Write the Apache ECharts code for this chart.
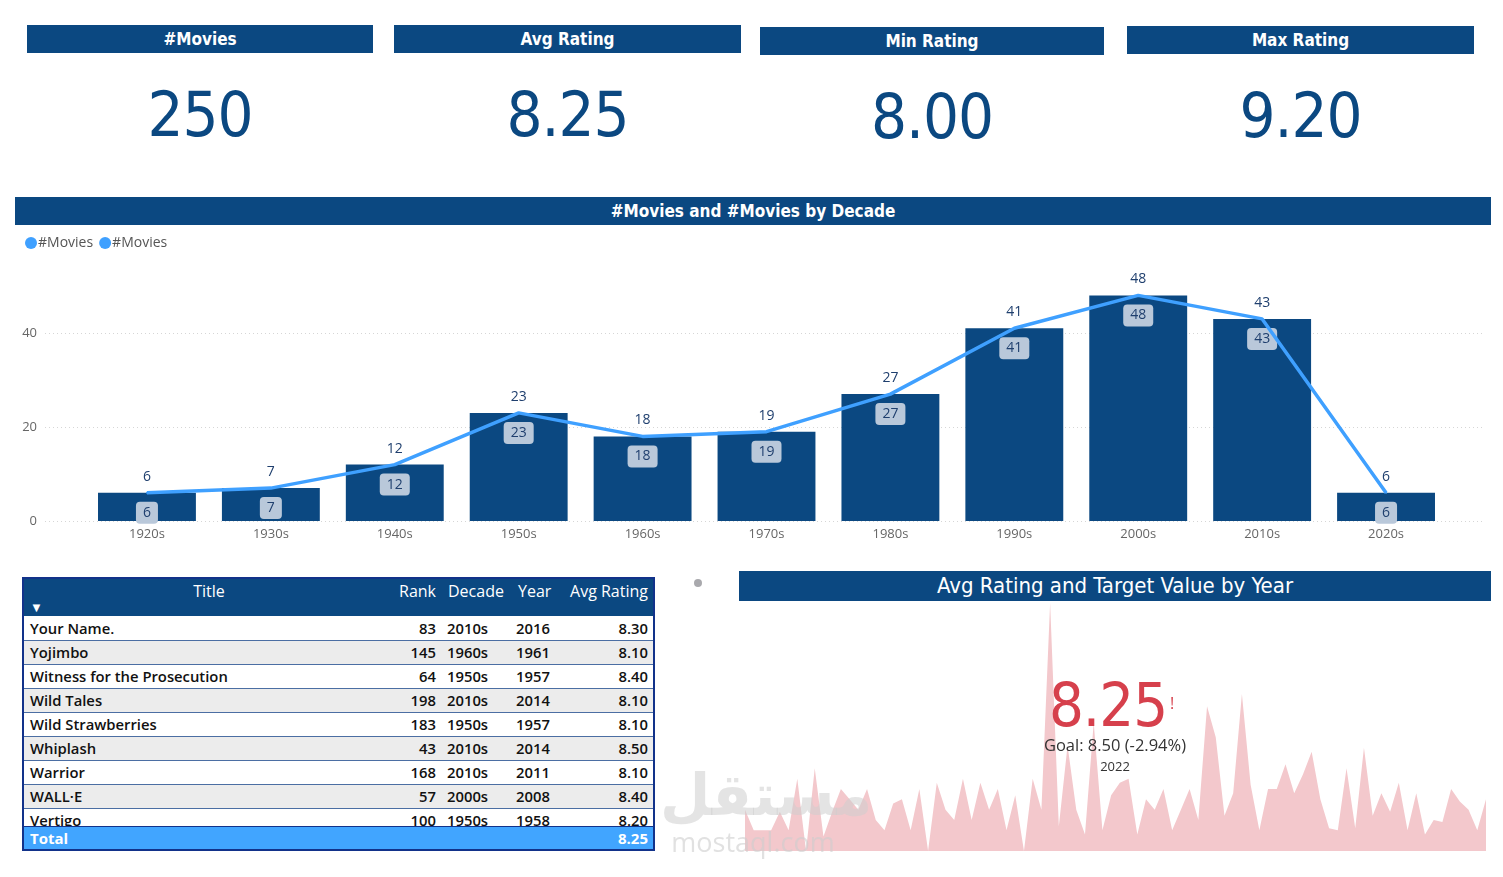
<!DOCTYPE html>
<html>
<head>
<meta charset="utf-8">
<title>Movies dashboard</title>
<script src="https://cdn.jsdelivr.net/npm/echarts@6.0.0/dist/echarts.min.js"></script>
<style>
  html, body { margin: 0; padding: 0; background: #fff; }
  body { width: 1503px; height: 877px; position: relative; overflow: hidden; font-family: 'Open Sans', 'Noto Sans', sans-serif; }
  #chart { position: absolute; left: 0; top: 0; width: 1503px; height: 877px; }
  .abs { position: absolute; }
  .din { font-family: 'DejaVu Sans Condensed', 'DejaVu Sans', sans-serif; font-stretch: condensed; }
  .bar { background: #0b4881; color: #fff; font-weight: bold; font-size: 17px; text-align: center; }
  .kpi { color: #0b4881; font-size: 63px; letter-spacing: -1px; text-align: center; }
  #tbl { left: 22px; top: 577px; width: 629px; height: 270px; border: 2px solid #12328a; background: #fff; overflow: hidden; }
  #tbl .head { position: absolute; left: 0; top: 0; width: 100%; height: 37px; background: #0b4881; color: #fff; font-size: 16px; }
  #tbl .head span, #tbl .row span { position: absolute; white-space: nowrap; }
  #rows { position: absolute; left: 0; top: 38px; width: 100%; height: 210px; overflow: hidden; }
  #tbl .row { position: absolute; left: 0; width: 100%; height: 23px; border-bottom: 1px solid #4b6ea3; color: #111; font-size: 14.8px; font-weight: 600; line-height: 23px; }
  #tbl .total { position: absolute; left: 0; top: 247px; width: 100%; height: 23px; background: #41a5ff; color: #fff; font-size: 15px; font-weight: bold; line-height: 23px; border-top: 1px solid #12328a; }
  #tbl .total span { position: absolute; }
</style>
</head>
<body>
<div id="chart"></div>

<script>
// KPI cards
var kpiTitles = ['#Movies', 'Avg Rating', 'Min Rating', 'Max Rating'];
var kpiValues = ['250', '8.25', '8.00', '9.20'];

// #Movies by decade
var decades = ['1920s', '1930s', '1940s', '1950s', '1960s', '1970s', '1980s', '1990s', '2000s', '2010s', '2020s'];
var decadeCounts = [6, 7, 12, 23, 18, 19, 27, 41, 48, 43, 6];

// avg rating by year (trend behind the KPI)
var years = [1921, 1924, 1925, 1926, 1927, 1931, 1934, 1936, 1939,
  1940, 1941, 1942, 1944, 1946, 1948, 1949,
  1950, 1951, 1952, 1953, 1954, 1955, 1956, 1957, 1958, 1959,
  1960, 1961, 1962, 1963, 1964, 1966, 1968, 1969, 1971,
  1972, 1973, 1974, 1975, 1976, 1977, 1978, 1979, 1980, 1981, 1982, 1983, 1984, 1985, 1986, 1987, 1988, 1989,
  1990, 1991, 1992, 1993, 1994, 1995, 1996, 1997, 1998, 1999, 2000, 2001, 2002, 2003, 2004, 2005, 2006, 2007,
  2008, 2009, 2010, 2011, 2012, 2013, 2014, 2015, 2016, 2017, 2018, 2019, 2020, 2021, 2022];
var yearRatings = [8.20, 8.10, 8.10, 8.10, 8.19, 8.10, 8.35, 8.00, 8.40,
  8.07, 8.19, 8.30, 8.25, 8.20, 8.30, 8.15,
  8.10, 8.23, 8.25, 8.10, 8.30, 8.00, 8.33, 8.20, 8.15, 8.35,
  8.15, 8.33, 8.20, 8.30, 8.10, 8.27, 8.00, 8.35, 8.20,
  9.20, 8.12, 8.51, 8.20, 8.08, 8.62, 8.10, 8.27, 8.33, 8.35, 8.08, 8.25, 8.20, 8.30, 8.10, 8.20, 8.30, 8.15,
  8.70, 8.55, 8.17, 8.28, 8.76, 8.32, 8.10, 8.30, 8.30, 8.42, 8.28, 8.37, 8.48, 8.25, 8.11, 8.10, 8.40, 8.11,
  8.50, 8.17, 8.28, 8.19, 8.33, 8.10, 8.28, 8.08, 8.15, 8.14, 8.30, 8.24, 8.20, 8.10, 8.25];
var goalValue = '8.50';
var goalDelta = '(-2.94%)';
var kpiYear = '2022';

// table
var cols = ['Title', 'Rank', 'Decade', 'Year', 'Avg Rating'];
var tTitles = ['Your Name.', 'Yojimbo', 'Witness for the Prosecution', 'Wild Tales', 'Wild Strawberries', 'Whiplash', 'Warrior', 'WALL·E', 'Vertigo'];
var tRanks = [83, 145, 64, 198, 183, 43, 168, 57, 100];
var tDecades = ['2010s', '1960s', '1950s', '2010s', '1950s', '2010s', '2010s', '2000s', '1950s'];
var tYears = [2016, 1961, 1957, 2014, 1957, 2014, 2011, 2008, 1958];
var tRatings = ['8.30', '8.10', '8.40', '8.10', '8.10', '8.50', '8.10', '8.40', '8.20'];
var tTotal = '8.25';

function el(tag, cls, css, text, parent) {
  var d = document.createElement(tag);
  if (cls) d.className = cls;
  d.style.cssText = css || '';
  if (text != null) d.textContent = text;
  (parent || document.body).appendChild(d);
  return d;
}

// KPI cards
var cardBars = [[27, 25, 346, 28], [394, 25, 347, 28], [760, 27, 344, 28], [1127, 26, 347, 28]];
cardBars.forEach(function(b, i) {
  el('div', 'abs bar din', 'left:' + b[0] + 'px;top:' + b[1] + 'px;width:' + b[2] + 'px;height:' + b[3] + 'px;line-height:' + b[3] + 'px;', kpiTitles[i]);
  el('div', 'abs kpi din', 'left:' + b[0] + 'px;top:' + (b[1] + 52) + 'px;width:' + b[2] + 'px;height:76px;line-height:76px;', kpiValues[i]);
});

// section title bars
el('div', 'abs bar din', 'left:15px;top:197px;width:1476px;height:28px;line-height:28px;', '#Movies and #Movies by Decade');
el('div', 'abs', 'left:739px;top:571px;width:752px;height:30px;line-height:29px;background:#0b4881;color:#fff;text-align:center;font-size:22px;font-family:"Liberation Sans Narrow","DejaVu Sans Condensed",sans-serif;', 'Avg Rating and Target Value by Year');
el('div', 'abs', 'left:694px;top:579px;width:8px;height:8px;border-radius:4px;background:#a9a9ad;');

// watermark
el('div', 'abs', 'left:660px;top:760px;width:190px;text-align:center;font-size:58px;font-weight:bold;color:rgba(205,205,205,0.55);font-family:"DejaVu Sans",sans-serif;line-height:70px;z-index:3;', 'مستقل');
el('div', 'abs', 'left:658px;top:825px;width:190px;text-align:center;font-size:27px;color:rgba(205,205,205,0.6);font-family:"Open Sans",sans-serif;line-height:34px;z-index:3;', 'mostaql.com');

// KPI over trend
el('div', 'abs din', 'left:960px;top:669px;width:296px;text-align:center;font-size:61px;letter-spacing:-1px;line-height:72px;color:#d6404c;z-index:4;', yearRatings[yearRatings.length - 1].toFixed(2));
el('div', 'abs', 'left:1170px;top:692px;font-size:16px;color:#d6404c;z-index:4;', '!');
el('div', 'abs', 'left:990px;top:734px;width:250px;text-align:center;font-size:16.5px;line-height:22px;color:#333;z-index:4;', 'Goal: ' + goalValue + ' ' + goalDelta);
el('div', 'abs', 'left:1065px;top:757px;width:100px;text-align:center;font-size:13px;line-height:18px;color:#333;z-index:4;', kpiYear);

// table
var tbl = el('div', 'abs', '', null);
tbl.id = 'tbl';
var head = el('div', 'head', '', null, tbl);
var colPos = [
  ['left:0;width:370px;text-align:center;', 'Title'],
  ['right:217px;', 'Rank'],
  ['left:424px;', 'Decade'],
  ['left:494px;', 'Year'],
  ['right:5px;', 'Avg Rating']
];
colPos.forEach(function(c, i) { el('span', '', c[0] + 'top:1px;', cols[i], head); });
el('span', '', 'left:6px;top:19px;font-size:13px;', '▼', head);
var rows = el('div', '', '', null, tbl);
rows.id = 'rows';
tTitles.forEach(function(t, i) {
  var r = el('div', 'row', 'top:' + (i * 24) + 'px;background:' + (i % 2 ? '#ececec' : '#fff') + ';', null, rows);
  el('span', '', 'left:6px;', t, r);
  el('span', '', 'right:217px;', String(tRanks[i]), r);
  el('span', '', 'left:423px;', tDecades[i], r);
  el('span', '', 'left:492px;', String(tYears[i]), r);
  el('span', '', 'right:5px;', tRatings[i], r);
});
var tot = el('div', 'total', '', null, tbl);
el('span', '', 'left:6px;', 'Total', tot);
el('span', '', 'right:5px;', tTotal, tot);

// charts
var myChart = echarts.init(document.getElementById('chart'));
myChart.setOption({
  animation: false,
  textStyle: { fontFamily: 'Open Sans' },
  legend: {
    left: 20,
    top: 231,
    icon: 'circle',
    itemWidth: 12,
    itemHeight: 12,
    itemGap: 6,
    textStyle: { color: '#555', fontSize: 14, padding: [0, 0, 0, -4] },
    data: [
      { name: '#Movies', itemStyle: { color: '#3fa0ff' } },
      { name: '#Movies ', itemStyle: { color: '#3fa0ff' } }
    ]
  },
  grid: [
    { left: 85, right: 55, top: 286, bottom: 356 },
    { left: 45, right: 18, top: 333, bottom: 356 },
    { left: 745, right: 17, top: 603, bottom: 26 }
  ],
  xAxis: [{
    type: 'category',
    gridIndex: 0,
    data: decades,
    axisLine: { show: false },
    axisTick: { show: false },
    axisLabel: { color: '#666', fontSize: 13, margin: 7 }
  }, {
    type: 'value',
    gridIndex: 1,
    show: false
  }, {
    type: 'category',
    gridIndex: 2,
    data: years,
    boundaryGap: false,
    show: false
  }],
  yAxis: [{
    type: 'value',
    gridIndex: 0,
    min: 0,
    max: 50,
    show: false,
    splitLine: { show: false }
  }, {
    type: 'value',
    gridIndex: 1,
    min: 0,
    max: 40,
    interval: 20,
    axisLine: { show: false },
    axisTick: { show: false },
    axisLabel: { color: '#666', fontSize: 13, margin: 8 },
    splitLine: { lineStyle: { color: '#d6d6d6', type: [1, 3] } }
  }, {
    type: 'value',
    gridIndex: 2,
    min: 8.0,
    max: 9.2,
    show: false
  }],
  series: [{
    name: '#Movies',
    type: 'bar',
    xAxisIndex: 0,
    yAxisIndex: 0,
    data: decadeCounts,
    barCategoryGap: '21%',
    itemStyle: { color: '#0b4881' },
    label: {
      show: true,
      position: 'insideTop',
      distance: 9,
      color: '#1f3f6e',
      fontSize: 14,
      backgroundColor: '#b9c8da',
      borderRadius: 4,
      padding: [4, 7]
    },
    z: 2
  }, {
    name: '#Movies ',
    type: 'line',
    xAxisIndex: 0,
    yAxisIndex: 0,
    data: decadeCounts,
    symbol: 'circle',
    symbolSize: 2,
    showSymbol: true,
    lineStyle: { color: '#3fa0ff', width: 3.5 },
    itemStyle: { color: '#3fa0ff' },
    label: { show: true, position: 'top', distance: 8, color: '#1f3f6e', fontSize: 14 },
    labelLayout: { hideOverlap: false },
    z: 3
  }, {
    name: 'Avg Rating',
    type: 'line',
    xAxisIndex: 2,
    yAxisIndex: 2,
    data: yearRatings,
    symbol: 'none',
    lineStyle: { width: 0 },
    areaStyle: { color: '#f3c8cc', opacity: 1 },
    silent: true
  }]
});
</script>
</body>
</html>
